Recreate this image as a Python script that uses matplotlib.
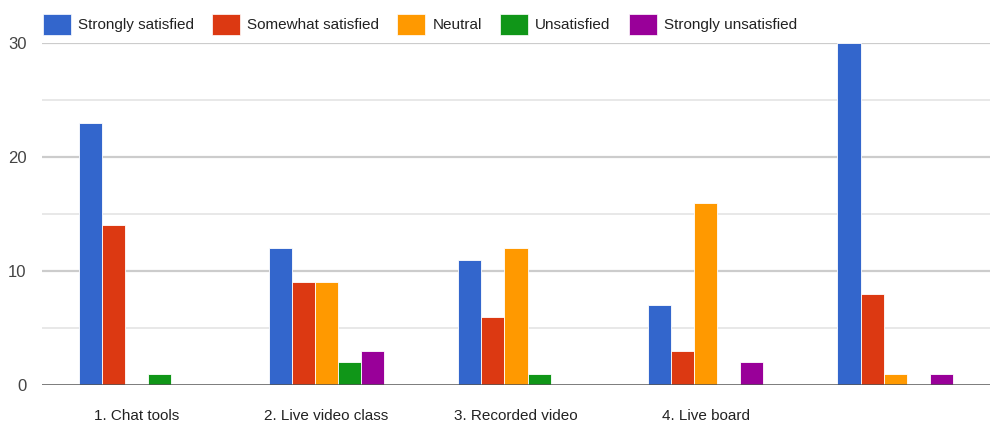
import numpy as np
import matplotlib
matplotlib.use("Agg")
import matplotlib.pyplot as plt
from matplotlib.patches import Patch

categories = ["1. Chat tools", "2. Live video class", "3. Recorded video", "4. Live board", ""]
series_names = ["Strongly satisfied", "Somewhat satisfied", "Neutral", "Unsatisfied", "Strongly unsatisfied"]
strongly_satisfied = [23, 12, 11, 7, 30]
somewhat_satisfied = [14, 9, 6, 3, 8]
neutral = [0, 9, 12, 16, 1]
unsatisfied = [1, 2, 1, 0, 0]
strongly_unsatisfied = [0, 3, 0, 2, 1]
series_values = [strongly_satisfied, somewhat_satisfied, neutral, unsatisfied, strongly_unsatisfied]
colors = ["#3366CC", "#DC3912", "#FF9900", "#109618", "#990099"]
y_ticks = [0, 10, 20, 30]

plt.rcParams["font.family"] = ["Liberation Sans", "DejaVu Sans"]

fig = plt.figure(figsize=(9.9, 4.25), dpi=100)
ax = fig.add_axes([42 / 990, 1 - 385 / 425, 948 / 990, (385 - 43) / 425])

x = np.arange(len(categories))
bar_w = 0.122
for i, (vals, col) in enumerate(zip(series_values, colors)):
    offs = (i - 2) * bar_w
    ax.bar(x + offs, vals, width=bar_w, color=col, edgecolor="#ffffff",
           linewidth=0.6, zorder=3)

ax.set_xlim(-0.5, 4.5)
ax.set_ylim(0, 30)

# gridlines: major every 10, minor every 5
for v in [10, 20, 30]:
    ax.axhline(v, color="#cccccc", linewidth=1.6, zorder=1)
for v in [5, 15, 25]:
    ax.axhline(v, color="#e8e8e8", linewidth=1.4, zorder=1)
ax.axhline(0, color="#555555", linewidth=1.8, zorder=4)

ax.set_yticks(y_ticks)
ax.set_yticklabels([str(t) for t in y_ticks], fontsize=12, color="#444444")
ax.set_xticks(x)
ax.set_xticklabels(categories, fontsize=11, color="#222222")
ax.tick_params(axis="y", length=0, pad=11)
ax.tick_params(axis="x", length=0, pad=17)
for s in ax.spines.values():
    s.set_visible(False)

handles = [Patch(facecolor=c, edgecolor="#ffffff", linewidth=0.5) for c in colors]
fig.legend(handles, series_names, loc="upper left", bbox_to_anchor=(0.04, 0.975),
           ncol=5, frameon=False, fontsize=11, handlelength=1.83, handleheight=1.75,
           handletextpad=0.46, columnspacing=1.2, labelcolor="#222222",
           borderpad=0.2, borderaxespad=0.0)

fig.savefig("out.png", dpi=100)
